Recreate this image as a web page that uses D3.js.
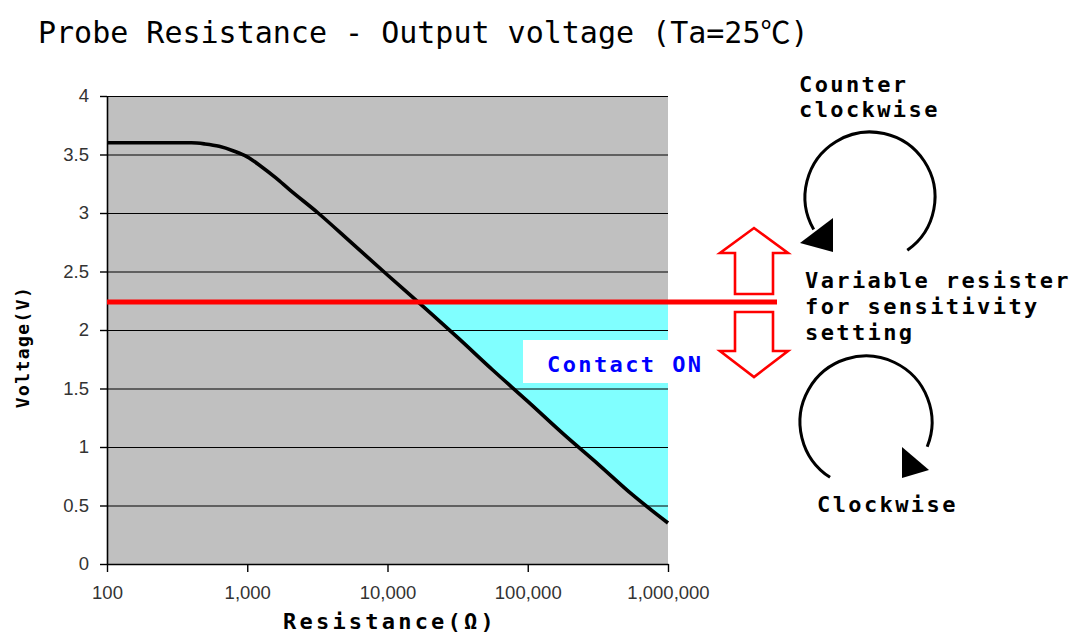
<!DOCTYPE html>
<html>
<head>
<meta charset="utf-8">
<script src="https://cdn.jsdelivr.net/npm/d3@7"></script>
<style>
  body { margin: 0; background: #fff; }
  svg { display: block; }
</style>
</head>
<body>
<svg width="1078" height="635"></svg>
<script>
// probe resistance (ohm) vs output voltage (V)
var resistance = [100, 300, 400, 500, 630, 800, 1000, 1250, 1600, 2000, 3200, 5600,
                  10000, 18000, 32000, 56000, 100000, 180000, 320000, 560000, 1000000];
var voltage = [3.6, 3.6, 3.6, 3.59, 3.57, 3.53, 3.48, 3.40, 3.30, 3.20, 3.0, 2.74,
               2.47, 2.2, 1.93, 1.66, 1.39, 1.11, 0.85, 0.59, 0.35];
var threshold = 2.24;   // sensitivity setting (red line)
var xTicks = [100, 1000, 10000, 100000, 1000000];
var yTicks = [0, 0.5, 1, 1.5, 2, 2.5, 3, 3.5, 4];

var titleText = "Probe Resistance - Output voltage (Ta=25\u2103)";
var ccwLabel = ["Counter", "clockwise"];
var cwLabel = "Clockwise";
var knobLabel = ["Variable resister", "for sensitivity", "setting"];

var svg = d3.select("svg");
var mono = "'DejaVu Sans Mono', 'Noto Sans CJK JP', monospace";

var x = d3.scaleLog().domain([100, 1000000]).range([107, 668]);
var y = d3.scaleLinear().domain([0, 4]).range([564, 96]);

var data = resistance.map(function(r, i) { return {r: r, v: voltage[i]}; });

// title
svg.append("text")
    .attr("x", 38).attr("y", 43)
    .style("font-family", mono)
    .style("font-size", "30px")
    .text(titleText);

// plot background
svg.append("rect")
    .attr("x", x.range()[0]).attr("y", y.range()[1])
    .attr("width", x.range()[1] - x.range()[0])
    .attr("height", y.range()[0] - y.range()[1])
    .style("fill", "#c0c0c0");

// contact ON region: right of the curve, under the threshold
var cross;
for (var i = 1; i < data.length; i++) {
  if (data[i - 1].v >= threshold && data[i].v < threshold) {
    var a = data[i - 1], b = data[i];
    var t = (a.v - threshold) / (a.v - b.v);
    var lr = Math.log10(a.r) + t * (Math.log10(b.r) - Math.log10(a.r));
    cross = {r: Math.pow(10, lr), v: threshold};
  }
}
var below = [cross].concat(data.filter(function(d) { return d.v < threshold; }));

var area = d3.area()
    .x(function(d) { return x(d.r); })
    .y0(y(threshold))
    .y1(function(d) { return y(d.v); })
    .curve(d3.curveMonotoneX);

svg.append("path")
    .attr("d", area(below))
    .style("fill", "#80ffff");

// gridlines
svg.append("g").selectAll("line")
    .data(yTicks.filter(function(d) { return d > 0; }))
    .enter().append("line")
    .attr("x1", x.range()[0]).attr("x2", x.range()[1])
    .attr("y1", function(d) { return y(d) + 0.5; })
    .attr("y2", function(d) { return y(d) + 0.5; })
    .style("stroke", "#000").style("stroke-width", 1.2);

// axes
var xAxis = svg.append("g")
    .attr("transform", "translate(0," + y(0) + ")")
    .call(d3.axisBottom(x).tickValues(xTicks).tickFormat(d3.format(","))
      .tickSizeInner(8).tickSizeOuter(0).tickPadding(21));
var yAxis = svg.append("g")
    .attr("transform", "translate(" + x.range()[0] + ",0)")
    .call(d3.axisLeft(y).tickValues(yTicks).tickFormat(function(d) { return d; })
      .tickSizeInner(7).tickSizeOuter(0).tickPadding(11));

[xAxis, yAxis].forEach(function(g) {
  g.select(".domain").style("stroke", "#000").style("stroke-width", 1.6);
  g.selectAll(".tick line").style("stroke", "#000").style("stroke-width", 1.4);
  g.selectAll(".tick text")
      .style("font-family", "'Liberation Sans', Arial, sans-serif")
      .style("font-size", "18.5px")
      .style("fill", "#333");
});
xAxis.selectAll(".tick text").attr("dy", "0.3em");

// curve
var line = d3.line()
    .x(function(d) { return x(d.r); })
    .y(function(d) { return y(d.v); })
    .curve(d3.curveMonotoneX);

svg.append("path")
    .attr("d", line(data))
    .style("fill", "none")
    .style("stroke", "#000")
    .style("stroke-width", 3.6);

// Contact ON label
svg.append("rect")
    .attr("x", 523).attr("y", 340).attr("width", 190).attr("height", 43)
    .style("fill", "#fff");
svg.append("text")
    .attr("x", 547).attr("y", 372)
    .style("font-family", mono).style("font-weight", "bold")
    .style("font-size", "22px").style("letter-spacing", "2.4px")
    .style("fill", "#0000ff")
    .text("Contact ON");

// threshold line
svg.append("line")
    .attr("x1", x.range()[0]).attr("x2", 777)
    .attr("y1", y(threshold)).attr("y2", y(threshold))
    .style("stroke", "#ff0000").style("stroke-width", 5);

// up / down block arrows around the threshold
function blockArrow(cx, base, neck, tip) {
  return [[cx - 19, base], [cx - 19, neck], [cx - 34, neck], [cx, tip],
          [cx + 34, neck], [cx + 19, neck], [cx + 19, base]];
}
[blockArrow(754, 294, 253, 228), blockArrow(754, 312, 351, 377)].forEach(function(p) {
  svg.append("path")
      .attr("d", "M" + p.join("L") + "Z")
      .style("fill", "#fff")
      .style("stroke", "#ff0000")
      .style("stroke-width", 2.6)
      .style("stroke-linejoin", "miter");
});

// rotation arrows
function rotArrow(cx, cy, r, a0, a1, ccw, head) {
  var p = d3.path();
  p.arc(cx, cy, r, a0 * Math.PI / 180, a1 * Math.PI / 180, ccw);
  svg.append("path").attr("d", p.toString())
      .style("fill", "none").style("stroke", "#000").style("stroke-width", 3);
  svg.append("path").attr("d", "M" + head.join("L") + "Z").style("fill", "#000");
}
rotArrow(870, 197, 65, 55, 150, true, [[833, 218], [833, 252], [800, 243]]);
rotArrow(866, 422, 66, 123, 382, false, [[902, 447], [902, 478], [929, 470]]);

// annotation texts
function label(lines, x0, y0, step) {
  var t = svg.append("text")
      .style("font-family", mono).style("font-weight", "bold")
      .style("font-size", "22px").style("letter-spacing", "2.4px");
  lines.forEach(function(s, i) {
    t.append("tspan").attr("x", x0).attr("y", y0 + i * step).text(s);
  });
}
label(ccwLabel, 799, 92, 25);
label(knobLabel, 805, 288, 26);
label([cwLabel], 817, 512, 0);

// axis titles
svg.append("text")
    .attr("x", 390).attr("y", 629)
    .attr("text-anchor", "middle")
    .style("font-family", mono).style("font-weight", "bold")
    .style("font-size", "22px").style("letter-spacing", "3.2px")
    .text("Resistance(\u03a9)");

svg.append("text")
    .attr("transform", "translate(29,347) rotate(-90)")
    .attr("text-anchor", "middle")
    .style("font-family", mono).style("font-weight", "bold")
    .style("font-size", "18px").style("letter-spacing", "1.4px")
    .text("Voltage(V)");
</script>
</body>
</html>
